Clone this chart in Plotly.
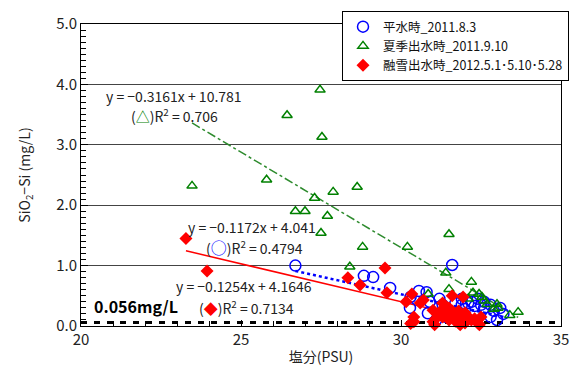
import plotly.graph_objects as go

# ---- data ----
blue_x = [26.7, 28.84, 29.13, 29.66, 30.3, 30.56, 30.8, 31.6, 30.28, 30.84, 31.3, 31.7, 31.9, 32.1, 32.2,
          32.3, 32.5, 32.6, 32.8, 32.9, 32.8, 33.1, 33.2, 33.0, 31.5, 31.8, 32.0, 31.1, 31.4, 30.9, 31.2,
          32.4, 31.9, 32.6, 32.0]
blue_y = [1.0, 0.83, 0.81, 0.63, 0.48, 0.58, 0.56, 1.01, 0.30, 0.21, 0.35, 0.38, 0.35, 0.38, 0.40,
          0.33, 0.35, 0.30, 0.35, 0.25, 0.15, 0.30, 0.20, 0.10, 0.25, 0.22, 0.28, 0.10, 0.15, 0.40, 0.45,
          0.45, 0.45, 0.40, 0.12]

green_x = [27.47, 26.44, 27.53, 23.47, 25.8, 27.3, 27.88, 28.63, 26.7, 27.0, 27.7, 27.5, 28.8, 30.2,
           31.5, 28.4, 31.4, 31.5, 32.2, 30.85, 32.25, 32.44, 32.53, 32.69, 33.0, 33.03, 33.4, 33.66,
           32.9, 32.6, 32.1]
green_y = [3.91, 3.49, 3.13, 2.32, 2.42, 2.12, 2.22, 2.30, 1.90, 1.90, 1.82, 1.54, 1.31, 1.31,
           1.52, 0.98, 0.88, 0.61, 0.73, 0.53, 0.55, 0.53, 0.48, 0.36, 0.36, 0.30, 0.18, 0.23,
           0.28, 0.42, 0.45]

red_x = [23.28, 23.94, 28.34, 28.72, 29.5, 29.56, 30.16, 30.34, 30.6, 30.7, 30.4, 30.4, 31.0, 31.1,
         31.0, 31.4, 31.3, 31.6, 31.94, 31.3, 31.3, 31.5, 31.6, 31.7, 31.8, 31.9, 32.0, 32.1, 32.2,
         32.3, 32.4, 31.8, 31.5, 31.6, 31.7, 32.0, 31.2, 31.9, 32.5, 30.3, 31.05, 31.85, 32.45]
red_y = [1.45, 0.91, 0.80, 0.68, 0.96, 0.55, 0.40, 0.53, 0.38, 0.43, 0.15, 0.07, 0.26, 0.13,
         0.07, 0.23, 0.15, 0.50, 0.48, 0.38, 0.28, 0.30, 0.25, 0.20, 0.25, 0.18, 0.22, 0.15, 0.10,
         0.12, 0.05, 0.05, 0.10, 0.15, 0.08, 0.05, 0.20, 0.12, 0.15, 0.04, 0.02, 0.02, 0.02]

# regression coefficients shown on the chart
green_fit = (-0.3161, 10.781)
blue_fit = (-0.1172, 4.041)
red_fit = (-0.1254, 4.1646)
baseline = 0.056

legend_names = ["平水時_2011.8.3", "夏季出水時_2011.9.10", "融雪出水時_2012.5.1･5.10･5.28"]

FONT = "Noto Sans CJK JP"

def fit_line(xs, coef):
    x0, x1 = min(xs), max(xs)
    return [x0, x1], [coef[0] * x0 + coef[1], coef[0] * x1 + coef[1]]

fig = go.Figure()

# baseline dashed line
fig.add_trace(go.Scatter(x=[20, 35], y=[baseline, baseline], mode="lines",
                         line=dict(color="black", width=3, dash="6px,7px"),
                         showlegend=False, hoverinfo="skip", cliponaxis=False))

gx, gy = fit_line(green_x, green_fit)
fig.add_trace(go.Scatter(x=gx, y=gy, mode="lines", showlegend=False,
                         line=dict(color="#2e8b2e", width=1.5, dash="dashdot")))
bx, by = fit_line(blue_x, blue_fit)
fig.add_trace(go.Scatter(x=bx, y=by, mode="lines", showlegend=False,
                         line=dict(color="blue", width=2.5, dash="dot")))
rx, ry = fit_line(red_x, red_fit)
fig.add_trace(go.Scatter(x=rx, y=ry, mode="lines", showlegend=False,
                         line=dict(color="red", width=1.5)))

fig.add_trace(go.Scatter(x=blue_x, y=blue_y, mode="markers", name=legend_names[0],
                         marker=dict(symbol="circle-open", size=11, color="blue", line=dict(width=1.5)),
                         cliponaxis=False))
fig.add_trace(go.Scatter(x=green_x, y=green_y, mode="markers", name=legend_names[1],
                         marker=dict(symbol="triangle-up-open", size=9, color="green", line=dict(width=1.5)),
                         cliponaxis=False))
fig.add_trace(go.Scatter(x=red_x, y=red_y, mode="markers", name=legend_names[2],
                         marker=dict(symbol="diamond", size=10, color="red"),
                         cliponaxis=False))

FW, FH = 572, 371
L, R, T, B = 81, 11, 24, 45
W, H = FW - L - R, FH - T - B

def px(xpix):
    return (xpix - L) / W

def py(ypix):
    return 1 - (ypix - T) / H

txt = dict(family=FONT, size=14, color="#222")
ann = [
    dict(x=104, y=96, text="y = −0.3161x + 10.781"),
    dict(x=129, y=115, text="(<span style='color:green'>△</span>)R<sup>2</sup> = 0.706"),
    dict(x=186, y=227, text="y = −0.1172x + 4.041"),
    dict(x=204, y=247, text="(<span style='color:blue;font-size:16px'>○</span>)R<sup>2</sup> = 0.4794"),
    dict(x=174, y=286, text="y = −0.1254x + 4.1646"),
    dict(x=197, y=307, text="(<span style='color:red'>◆</span>)R<sup>2</sup> = 0.7134"),
]
annotations = []
for a in ann:
    annotations.append(dict(x=px(a["x"]), y=py(a["y"]), xref="paper", yref="paper",
                            text=a["text"], showarrow=False, xanchor="left", yanchor="middle",
                            font=txt))
annotations.append(dict(x=px(92), y=py(306), xref="paper", yref="paper",
                        text="<b>0.056mg/L</b>", showarrow=False, xanchor="left", yanchor="middle",
                        font=dict(family=FONT, size=16, color="black")))

fig.update_layout(
    width=FW, height=FH,
    margin=dict(l=L, r=R, t=T, b=B, autoexpand=False),
    paper_bgcolor="white", plot_bgcolor="white",
    font=dict(family=FONT, size=14, color="#222"),
    showlegend=True,
    legend=dict(xref="container", yref="container", x=342 / FW, y=1 - 11 / FH,
                xanchor="left", yanchor="top",
                bgcolor="white", bordercolor="black", borderwidth=1,
                font=dict(family=FONT, size=12.5, color="#111"),
                tracegroupgap=0, itemwidth=30),
    annotations=annotations,
    xaxis=dict(range=[20, 35], dtick=5, tick0=20, showgrid=False, zeroline=False, automargin=False,
               showline=True, linecolor="black", linewidth=1, mirror=True,
               ticks="inside", ticklen=6, tickcolor="black",
               minor=dict(dtick=1, ticks="inside", ticklen=5, tickcolor="black"),
               title=dict(text="塩分(PSU)", font=dict(size=14), standoff=4),
               tickfont=dict(size=15)),
    yaxis=dict(range=[0, 5], dtick=1, tickformat=".1f", showgrid=True, gridcolor="#444",
               gridwidth=1, zeroline=False, automargin=False,
               showline=True, linecolor="black", linewidth=1, mirror=True,
               ticks="inside", ticklen=7, tickcolor="black",
               minor=dict(dtick=0.1, ticks="inside", ticklen=5, tickcolor="black"),
               title=dict(text="SiO<sub>2</sub>−Si (mg/L)", font=dict(size=14), standoff=22),
               tickfont=dict(size=15)),
)

fig.write_html("out.html", config={"displayModeBar": False},
               post_script="document.body.style.margin='0';document.body.style.overflow='hidden';")
